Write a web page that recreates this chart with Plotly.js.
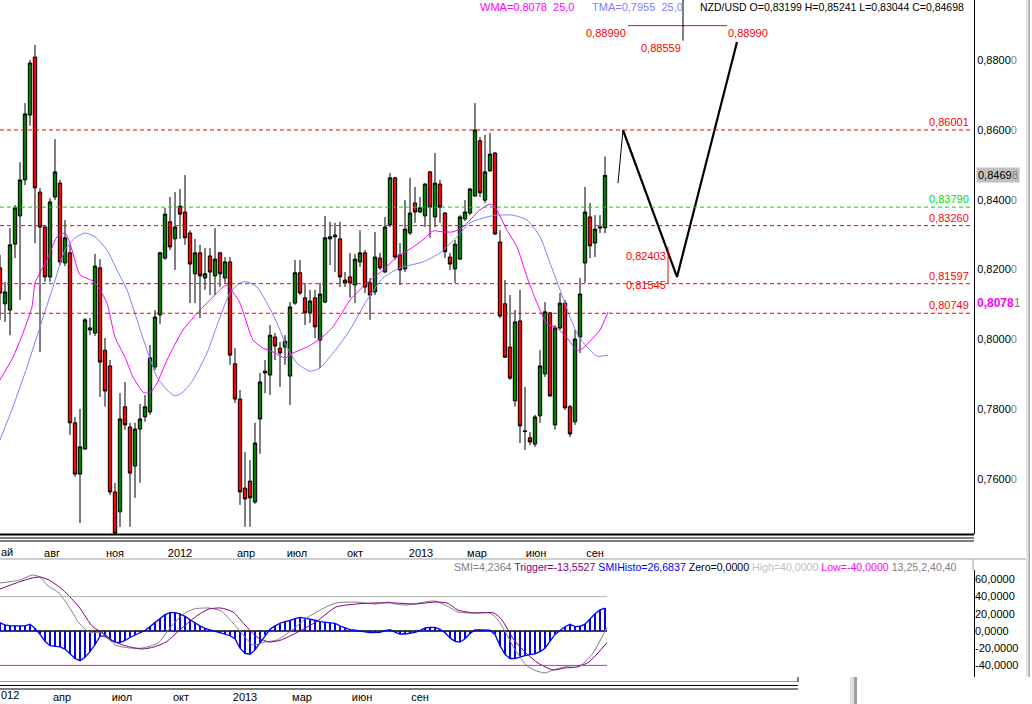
<!DOCTYPE html>
<html><head><meta charset="utf-8">
<script src="https://cdn.plot.ly/plotly-3.0.1.min.js"></script>
<style>html,body{margin:0;padding:0;background:#fff}#chart{width:1032px;height:704px}</style>
</head><body><div id="chart"></div>
<script>
// ---------- DATA (weekly NZD/USD candles) ----------
const opens = [0.8205,0.8102,0.8084,0.8273,0.8354,0.8457,0.8643,0.8809,0.8422,0.8322,
0.8179,0.8408,0.8448,0.8219,0.8248,0.7761,0.7614,0.7686,0.8027,0.8018,
0.8205,0.7969,0.7924,0.7563,0.7506,0.7807,0.7749,0.7637,0.7743,0.7778,
0.7792,0.7921,0.8070,0.8233,0.8337,0.8288,0.8382,0.8365,0.8305,0.8188,
0.8248,0.8176,0.8239,0.8182,0.8248,0.8176,0.8222,0.7930,0.7829,0.7574,
0.7594,0.7534,0.7772,0.7909,0.7898,0.8007,0.7975,0.7978,0.7895,0.8104,
0.8191,0.8119,0.8076,0.8119,0.7998,0.8107,0.8288,0.8299,0.8288,0.8170,
0.8179,0.8156,0.8222,0.8248,0.8162,0.8136,0.8233,0.8193,0.8328,0.8463,
0.8242,0.8202,0.8305,0.8391,0.8365,0.8354,0.8480,0.8351,0.8445,0.8362,
0.8236,0.8202,0.8230,0.8345,0.8362,0.8411,0.8569,0.8399,0.8483,0.8534,
0.8279,0.8102,0.7978,0.7824,0.8053,0.7738,0.7718,0.7700,0.7781,0.7901,
0.8076,0.7755,0.8033,0.8104,0.7807,0.7764,0.8007,0.8219,0.8351,0.8276,
0.8319,0.83199];
const highs = [0.8242,0.8165,0.8319,0.8385,0.8508,0.8677,0.8801,0.8844,0.8434,0.8328,
0.8405,0.8574,0.8457,0.8342,0.8271,0.7778,0.7801,0.8061,0.8061,0.8245,
0.8230,0.8004,0.7941,0.7589,0.7846,0.7878,0.7761,0.7761,0.7815,0.7841,
0.7984,0.8084,0.8251,0.8377,0.8408,0.8422,0.8431,0.8471,0.8313,0.8288,
0.8271,0.8262,0.8262,0.8319,0.8251,0.8236,0.8236,0.7975,0.7855,0.7677,
0.7654,0.7761,0.7904,0.7941,0.8041,0.8018,0.7993,0.8012,0.8107,0.8228,
0.8228,0.8162,0.8142,0.8142,0.8162,0.8354,0.8337,0.8334,0.8337,0.8193,
0.8248,0.8245,0.8313,0.8256,0.8176,0.8308,0.8248,0.8351,0.8477,0.8465,
0.8276,0.8399,0.8463,0.8437,0.8408,0.8448,0.8483,0.8534,0.8457,0.8365,
0.8248,0.8285,0.8356,0.8399,0.8434,0.8677,0.8580,0.8586,0.8592,0.8537,
0.8313,0.8170,0.8127,0.8084,0.8142,0.7864,0.7735,0.7784,0.7969,0.8107,
0.8079,0.8041,0.8133,0.8113,0.7812,0.8027,0.8176,0.8437,0.8391,0.8356,
0.8356,0.85241];
const lows = [0.8056,0.8050,0.8012,0.8233,0.8113,0.8442,0.8612,0.8276,0.7964,0.8165,
0.8165,0.8399,0.8213,0.8210,0.7726,0.7606,0.7474,0.7683,0.8012,0.8010,
0.7835,0.7807,0.7554,0.7440,0.7463,0.7741,0.7463,0.7546,0.7589,0.7764,
0.7784,0.7912,0.8044,0.8228,0.8256,0.8199,0.8288,0.8271,0.8104,0.8104,
0.8061,0.8142,0.8127,0.8127,0.8150,0.8162,0.7927,0.7818,0.7526,0.7463,
0.7463,0.7529,0.7672,0.7846,0.7841,0.7941,0.7864,0.7927,0.7812,0.8099,
0.8127,0.8041,0.8047,0.8004,0.7918,0.8104,0.8213,0.8193,0.8150,0.8150,
0.8119,0.8104,0.8208,0.8133,0.8056,0.8127,0.8199,0.8191,0.8322,0.8228,
0.8156,0.8193,0.8299,0.8334,0.8362,0.8322,0.8291,0.8322,0.8334,0.8233,
0.8199,0.8162,0.8228,0.8339,0.8356,0.8408,0.8408,0.8391,0.8480,0.8299,
0.8061,0.7947,0.7884,0.7807,0.7703,0.7683,0.7697,0.7692,0.7761,0.7892,
0.7835,0.7741,0.8027,0.7798,0.7720,0.7755,0.7961,0.8162,0.8233,0.8236,
0.8305,0.83044];
const closes = [0.8133,0.8136,0.8271,0.8377,0.8457,0.8646,0.8792,0.8434,0.8322,0.8179,
0.8394,0.8480,0.8222,0.8291,0.7761,0.7614,0.7692,0.8056,0.8033,0.8210,
0.7935,0.7852,0.7563,0.7445,0.7772,0.7755,0.7617,0.7743,0.7772,0.7807,
0.7947,0.8064,0.8248,0.8359,0.8265,0.8322,0.8359,0.8291,0.8216,0.8248,
0.8182,0.8188,0.8193,0.8230,0.8188,0.8222,0.7955,0.7829,0.7563,0.7543,
0.7546,0.7703,0.7878,0.7904,0.8012,0.7981,0.7961,0.7995,0.8093,0.8191,
0.8133,0.8076,0.8110,0.8036,0.8130,0.8291,0.8294,0.8294,0.8179,0.8162,
0.8162,0.8230,0.8248,0.8150,0.8127,0.8236,0.8205,0.8322,0.8463,0.8236,
0.8199,0.8316,0.8362,0.8365,0.8377,0.8445,0.8379,0.8448,0.8379,0.8251,
0.8216,0.8273,0.8351,0.8365,0.8431,0.8600,0.8420,0.8480,0.8531,0.8302,
0.8067,0.7949,0.7889,0.8050,0.7752,0.7736,0.7706,0.7778,0.7924,0.8079,
0.7838,0.8033,0.8104,0.7804,0.7729,0.8001,0.8130,0.8365,0.8268,0.8316,
0.8322,0.84698];

// WMA(25) and TMA(25) (x in bar numbers)
const wmaBar = [0,2.6,4.6,6.4,7,8,9.4,10,11.4,13,13.6,14.4,16,18.6,20,21.4,23,25,26.6,28.6,30,31.4,33.4,36.6,40,42.6,44.6,45.6,46.6,48,50.6,52.6,54.6,57,58.6,61.4,64,66.6,70,73.4,76.6,79.4,82,84.6,86.6,88.6,90.6,92.6,94,96,98,99,101.4,103.4,105.4,106.6,108,109.4,111.4,113.4,115.4,116.6,118.6,120,121.6];
const wmaVal = [0.7884,0.7949,0.8018,0.8093,0.8162,0.8191,0.8228,0.8248,0.8294,0.8305,0.8291,0.8256,0.8185,0.8167,0.8142,0.8104,0.8007,0.7949,0.7892,0.7849,0.7846,0.7875,0.7941,0.8027,0.8084,0.8122,0.8150,0.8156,0.8136,0.8104,0.7998,0.7975,0.7964,0.7947,0.7961,0.7978,0.8001,0.8036,0.8113,0.8162,0.8199,0.8236,0.8259,0.8285,0.8311,0.8308,0.8308,0.8322,0.8342,0.8371,0.8388,0.8379,0.8313,0.8265,0.8179,0.8133,0.8084,0.8044,0.8033,0.8004,0.7969,0.7975,0.8004,0.8027,0.8078];
const tmaBar = [0,2.6,5.4,8,10.6,13,15,17,19,21.4,23.4,25.4,27.4,29.4,31.4,33.4,35,36.6,38.6,41.4,44,46,48,49.4,51.4,53.4,55.4,57.4,59.4,62,64,66.6,68.6,70,73.4,76.6,80,84.6,88,91.4,94,97.4,99.4,102.6,105.4,108,110,112,114,115.6,117.4,119.4,121.6];
const tmaVal = [0.7712,0.7807,0.7921,0.8036,0.8150,0.8256,0.8291,0.8305,0.8294,0.8256,0.8199,0.8142,0.8056,0.7969,0.7892,0.7855,0.7838,0.7849,0.7884,0.7961,0.8064,0.8133,0.8162,0.8165,0.8150,0.8104,0.8047,0.7978,0.7932,0.7909,0.7918,0.7961,0.7998,0.8027,0.8113,0.8176,0.8205,0.8222,0.8248,0.8294,0.8334,0.8351,0.8356,0.8356,0.8342,0.8294,0.8219,0.8142,0.8064,0.8012,0.7978,0.7952,0.7955];

// horizontal levels
const levelVals   = [0.86001, 0.83790, 0.83260, 0.81597, 0.80749];
const levelLabels = ['0,86001','0,83790','0,83260','0,81597','0,80749'];
const levelColors = ['#ff0000','#00dd00','#ff0000','#ff0000','#ff0000'];

// forecast zig-zag (bar numbers, prices)
const zigBar = [123.6, 124.6, 135.4, 147.4];
const zigVal = [0.8448, 0.8600, 0.8179, 0.8852];
const fcTop = 0.88990, fcMid = 0.88559, fcLow1 = 0.82403, fcLow2 = 0.81545;

// price axis ticks
const priceTicks = [0.76, 0.78, 0.80, 0.82, 0.84, 0.86, 0.88];
const priceTickText = ['0,7600','0,7800','0,8000','0,8200','0,8400','0,8600','0,8800'];
// time axis labels (bar positions)
const timeTickBars = [10.4, 23, 36, 49.2, 59.4, 71, 84.2, 95.4, 107.2, 119];
const timeTickText = ['авг','ноя','2012','апр','июл','окт','2013','мар','июн','сен'];
const lowTickBars = [12.4, 24.4, 36.2, 49, 60.4, 72.4, 84];
const lowTickText = ['апр','июл','окт','2013','мар','июн','сен'];

// SMI indicator
const smiHisto = [9.7,7,6,6,6,6,8,3,-4,-12,
-17,-18,-18.5,-21,-27,-32,-34.5,-30.6,-24,-16,
-6,-6,-10,-13,-13.5,-11,-7.5,-4.5,-2,0.5,
5,10,14,19,21.3,21.3,20,17,13,9,
6,3,1,-0.5,-1.8,-3.5,-5.5,-9,-20,-26,
-27,-22,-14,-5,2,6,9,11,12.3,14.5,
15.9,15,14,12.5,10.9,10.5,9.5,9,6,3.5,
1.6,1,0.4,-1,-1.9,-1.9,-1.5,0.5,1.5,-1.2,
-3.5,-3.5,-2.8,-1.5,0.5,3.5,4.3,4.3,2,-2,
-8,-12,-13,-9,-3,1.2,1.2,1.2,1,-4,
-17,-27,-32,-32,-30,-28.5,-27.5,-26.5,-24,-20,
-12,-4,0.5,5,8,5,5.5,8,14,20,
24.5,26.7];
const smiBar = [0,4,6.4,8,9.4,11.8,14.2,15.8,17.8,20.2,21.4,23,26,28.4,31.6,34,36.4,38.8,41.8,44.2,46.6,49,50.6,53,55.4,58.4,61.6,64.8,67.2,71.2,75,77.8,79,81.4,83.8,87,89.4,91.6,94,98,99.6,101.2,102.8,105.2,106.8,109,110.6,113.8,116.2,118.6,121.4];
const smiVal = [55.8,59.3,65.1,62.8,53.5,44.2,24.4,9.3,-1.2,-2.3,-7,-16.3,-19.8,-19.8,-14,3.5,18.6,25.6,26.7,23.3,9.3,-7,-16.3,-12.8,-10.5,1.2,16.3,26.7,32.6,33.7,31.4,33.7,31.4,30.2,32.6,34.9,29.1,22.1,20.9,20.9,12.8,-2.3,-19.8,-39.5,-45.3,-48.8,-45.3,-40.7,-39.5,-25.6,4.24];
const trigBar = [0,3.2,6.4,8,9.8,12.6,15.8,18.6,20.6,23,26,28.4,30.8,33.2,36.4,39.6,41.8,44.2,46.6,49,51.4,53.8,56.2,59.2,63.2,67.2,71.2,75,79,83,87,89.4,91.6,94.8,98.8,100.4,102.8,105.2,107.6,110.6,113,115.4,117.8,121.4];
const trigVal = [48.8,55.8,61.6,62.8,59.3,47.7,27.9,4.7,-2.3,-12.8,-18.6,-20.9,-18.6,-12.8,3.5,18.6,25.6,26.7,22.1,7,-7,-12.8,-10.5,-2.3,10.5,27.9,31.4,32.6,32.6,31.4,33.7,32.6,24.4,20.9,20.9,12.8,-10.5,-25.6,-37.2,-45.3,-43,-41.9,-36,-13.55];
const smiLevels = {high: 40, zero: 0, low: -40};
const smiTicks = [-40,-20,0,20,40,60];
const smiTickText = ['-40,0000','-20,0000','0,0000','20,0000','40,0000','60,0000'];

// ---------- LAYOUT HELPERS ----------
const W = 1032, H = 704;
const PX = x => x / W, PY = y => 1 - y / H;
const FONT = 'Liberation Sans, Arial, sans-serif';
const pxPerBar = 5, plotRightPx = 974;
const mainTopPrice = 0.89725, pricePerPx = 1/3490, mainBottomPx = 534;
const lowZeroPx = 631, lowPxPerUnit = 0.86, lowTopPx = 562, lowBottomPx = 681;
const barIdx = opens.map((_, i) => i);
const lastBar = barIdx.length - 1 + 0.4;

const traces = [];
traces.push({
  type: 'candlestick', x: barIdx, open: opens, high: highs, low: lows, close: closes,
  xaxis: 'x', yaxis: 'y', whiskerwidth: 0,
  increasing: {line: {color: '#000000', width: 1}, fillcolor: '#008000'},
  decreasing: {line: {color: '#000000', width: 1}, fillcolor: '#ff0000'},
  hoverinfo: 'skip'
});
traces.push({type:'scatter', mode:'lines', x: tmaBar, y: tmaVal, xaxis:'x', yaxis:'y',
  line:{color:'#8080ff', width:1, shape:'spline', smoothing:0.6}, hoverinfo:'skip'});
traces.push({type:'scatter', mode:'lines', x: wmaBar, y: wmaVal, xaxis:'x', yaxis:'y',
  line:{color:'#ff00ff', width:1, shape:'spline', smoothing:0.5}, hoverinfo:'skip'});
// zigzag
traces.push({type:'scatter', mode:'lines', x: zigBar.slice(0,2), y: zigVal.slice(0,2), xaxis:'x', yaxis:'y',
  line:{color:'#000000', width:1}, hoverinfo:'skip'});
traces.push({type:'scatter', mode:'lines', x: zigBar.slice(1), y: zigVal.slice(1), xaxis:'x', yaxis:'y',
  line:{color:'#000000', width:2.2}, hoverinfo:'skip'});
// SMI panel
traces.push({type:'bar', x: barIdx, y: smiHisto, xaxis:'x2', yaxis:'y2', width: 0.22,
  marker:{color:'#0000ff', line:{width:0}}, hoverinfo:'skip'});
traces.push({type:'scatter', mode:'lines', x: barIdx, y: smiHisto, xaxis:'x2', yaxis:'y2',
  line:{color:'#0000ff', width:1.3}, hoverinfo:'skip'});
traces.push({type:'scatter', mode:'lines', x: smiBar, y: smiVal, xaxis:'x2', yaxis:'y2',
  line:{color:'#808080', width:1, shape:'spline', smoothing:0.6}, hoverinfo:'skip'});
traces.push({type:'scatter', mode:'lines', x: trigBar, y: trigVal, xaxis:'x2', yaxis:'y2',
  line:{color:'#800080', width:1, shape:'spline', smoothing:0.6}, hoverinfo:'skip'});

const shapes = [];
const annotations = [];
const hline = (x0, x1, y, color, w, dash) => shapes.push({type:'line', xref:'paper', yref:'paper',
  x0: PX(x0), x1: PX(x1), y0: PY(y), y1: PY(y), line:{color, width: w, dash: dash || 'solid'}});
const vline = (x, y0, y1, color, w) => shapes.push({type:'line', xref:'paper', yref:'paper',
  x0: PX(x), x1: PX(x), y0: PY(y0), y1: PY(y1), line:{color, width: w}});

// level lines + labels
levelVals.forEach((v, k) => {
  shapes.push({type:'line', xref:'paper', yref:'y', x0: 0, x1: PX(972), y0: v, y1: v,
    line:{color: levelColors[k], width: 1, dash: '4px,3px'}});
  annotations.push({xref:'paper', yref:'y', x: PX(970), y: v, xanchor:'right', yanchor:'bottom',
    text: levelLabels[k], showarrow:false, font:{family:FONT, size:11, color: levelColors[k]}, borderpad:0, yshift:1});
});

// forecast decorations
shapes.push({type:'line', xref:'x', yref:'y', x0: 125.6, x1: 145.4, y0: fcTop, y1: fcTop, line:{color:'#ff0000', width:1}});
shapes.push({type:'line', xref:'x', yref:'y', x0: 136.6, x1: 136.6, y0: fcMid, y1: mainTopPrice, line:{color:'#000000', width:1}});
shapes.push({type:'line', xref:'x', yref:'y', x0: 133.6, x1: 133.6, y0: fcLow1 + 0.0025, y1: fcLow2 + 0.0006, line:{color:'#ff0000', width:1}});
const red11 = {family:FONT, size:11, color:'#ff0000'};
annotations.push({xref:'x', yref:'y', x: 125.4, y: fcTop, xanchor:'right', yanchor:'top', text:'0,88990', showarrow:false, font:red11, borderpad:0});
annotations.push({xref:'x', yref:'y', x: 145.4, y: fcTop, xanchor:'left', yanchor:'top', text:'0,88990', showarrow:false, font:red11, borderpad:0});
annotations.push({xref:'x', yref:'y', x: 136.4, y: fcMid, xanchor:'right', yanchor:'top', text:'0,88559', showarrow:false, font:red11, borderpad:0});
annotations.push({xref:'x', yref:'y', x: 133.4, y: fcLow1, xanchor:'right', yanchor:'middle', text:'0,82403', showarrow:false, font:red11, borderpad:0});
annotations.push({xref:'x', yref:'y', x: 133.4, y: fcLow2, xanchor:'right', yanchor:'middle', text:'0,81545', showarrow:false, font:red11, borderpad:0});

// header
const hdr = (x, text, color, size) => annotations.push({xref:'paper', yref:'paper', x: PX(x), y: PY(7), xanchor:'left', yanchor:'middle',
  text, showarrow:false, font:{family:FONT, size, color}, borderpad:0});
hdr(479, 'WMA=0,8078\u00a0\u00a025,0', '#ff00ff', 11);
hdr(591, 'TMA=0,7955\u00a0\u00a025,0', '#8080ff', 11);
hdr(699, 'NZD/USD O=0,83199 H=0,85241 L=0,83044 C=0,84698', '#000000', 10.5);

// price boxes on right axis
annotations.push({xref:'paper', yref:'y', x: PX(976), y: closes[closes.length-1], xanchor:'left', yanchor:'middle',
  text:'0,8469<span style="color:#808080">8</span>', bgcolor:'#c0c0c0', showarrow:false,
  font:{family:FONT, size:11, color:'#000000'}, borderpad:1});
annotations.push({xref:'paper', yref:'paper', x: PX(976), y: PY(303), xanchor:'left', yanchor:'middle',
  text:'<b>0,8078</b><span style="color:#808080">1</span>', showarrow:false,
  font:{family:FONT, size:12, color:'#ff00ff'}, borderpad:0});

// axis leftover partial labels
annotations.push({xref:'paper', yref:'paper', x: 0, y: PY(552), xanchor:'left', yanchor:'middle', text:'ай', showarrow:false, font:{family:FONT, size:11, color:'#000'}, borderpad:0});
annotations.push({xref:'paper', yref:'paper', x: 0, y: PY(695), xanchor:'left', yanchor:'middle', text:'012', showarrow:false, font:{family:FONT, size:11, color:'#000'}, borderpad:0});

// SMI legend
annotations.push({xref:'paper', yref:'paper', x: PX(453), y: PY(567), xanchor:'left', yanchor:'middle', showarrow:false, borderpad:0,
  font:{family:FONT, size:10.6, color:'#808080'},
  text:'<span style="color:#808080">SMI=4,2364</span> <span style="color:#800080">Trigger=-13,5527</span> <span style="color:#0000ff">SMIHisto=26,6837</span> <span style="color:#000000">Zero=0,0000</span> <span style="color:#c0c0c0">High=40,0000</span> <span style="color:#ff00ff">Low=-40,0000</span> <span style="color:#808080">13,25,2,40,40</span>'});

// SMI reference lines
shapes.push({type:'line', xref:'x2', yref:'y2', x0:0, x1:lastBar, y0:smiLevels.high, y1:smiLevels.high, line:{color:'#b4b4b4', width:1}});
shapes.push({type:'line', xref:'x2', yref:'y2', x0:0, x1:lastBar, y0:smiLevels.low, y1:smiLevels.low, line:{color:'#ff00ff', width:1}});
shapes.push({type:'line', xref:'x2', yref:'y2', x0:0, x1:lastBar, y0:smiLevels.zero, y1:smiLevels.zero, line:{color:'#000000', width:1.6}, layer:'below'});

// frame lines
hline(0, 974, 534.5, '#000000', 2);
hline(0, 974, 538, '#000000', 1);
hline(0, 974, 541, '#000000', 1);
hline(0, 1028, 559, '#a0a0a0', 1);
vline(973, 559, 570, '#a0a0a0', 1);
vline(974.5, 570, 677, '#000000', 1);
hline(0, 798, 681.5, '#a0a0a0', 1);
hline(0, 798, 685.5, '#000000', 1);
hline(0, 798, 689, '#000000', 1);
vline(798, 677, 682, '#000000', 1);
shapes.push({type:'rect', xref:'paper', yref:'paper', x0:PX(1026), x1:PX(1028.5), y0:PY(677), y1:PY(0), fillcolor:'#e4e4e4', line:{width:0}});
shapes.push({type:'rect', xref:'paper', yref:'paper', x0:PX(1028.5), x1:PX(1030), y0:PY(677), y1:PY(0), fillcolor:'#a8a8a8', line:{width:0}});
shapes.push({type:'rect', xref:'paper', yref:'paper', x0:PX(850), x1:PX(854), y0:PY(704), y1:PY(677), fillcolor:'#e0e0e0', line:{width:0}});
shapes.push({type:'rect', xref:'paper', yref:'paper', x0:PX(854), x1:PX(857), y0:PY(704), y1:PY(677), fillcolor:'#a0a0a0', line:{width:0}});

const grayTail = s => s + '<span style="color:#808080">0</span>';
const layout = {
  width: W, height: H, margin:{l:0, r:0, t:0, b:0, pad:0},
  paper_bgcolor:'#ffffff', plot_bgcolor:'#ffffff', showlegend:false, hovermode:false,
  boxgap: 0.04, bargap: 0,
  font:{family:FONT, size:11, color:'#000000'},
  xaxis:{domain:[0, PX(plotRightPx)], range:[0, plotRightPx/pxPerBar], anchor:'y',
    showgrid:false, zeroline:false, showline:false, rangeslider:{visible:false},
    tickvals: timeTickBars, ticktext: timeTickText, ticks:'outside', ticklen:9, tickcolor:'rgba(0,0,0,0)',
    tickfont:{family:FONT, size:11, color:'#000'}, fixedrange:true},
  yaxis:{domain:[PY(mainBottomPx), 1], range:[mainTopPrice - mainBottomPx*pricePerPx, mainTopPrice], anchor:'x', side:'right',
    showgrid:false, zeroline:false, showline:true, linecolor:'#000000', linewidth:1,
    tickvals: priceTicks, ticktext: priceTickText.map(grayTail), ticks:'', tickfont:{family:FONT, size:11, color:'#000'}, fixedrange:true},
  xaxis2:{domain:[0, PX(plotRightPx)], range:[0, plotRightPx/pxPerBar], anchor:'y2',
    showgrid:false, zeroline:false, showline:false,
    tickvals: lowTickBars, ticktext: lowTickText, ticks:'outside', ticklen:6, tickcolor:'rgba(0,0,0,0)',
    tickfont:{family:FONT, size:11, color:'#000'}, fixedrange:true},
  yaxis2:{domain:[PY(lowBottomPx), PY(lowTopPx)],
    range:[(lowZeroPx - lowBottomPx)/lowPxPerUnit, (lowZeroPx - lowTopPx)/lowPxPerUnit], anchor:'x2', side:'right',
    showgrid:false, zeroline:false, showline:false,
    tickvals: smiTicks, ticktext: smiTickText, ticks:'', tickfont:{family:FONT, size:11, color:'#000'}, fixedrange:true},
  shapes, annotations
};
Plotly.newPlot('chart', traces, layout, {staticPlot:true, displayModeBar:false});
</script></body></html>
